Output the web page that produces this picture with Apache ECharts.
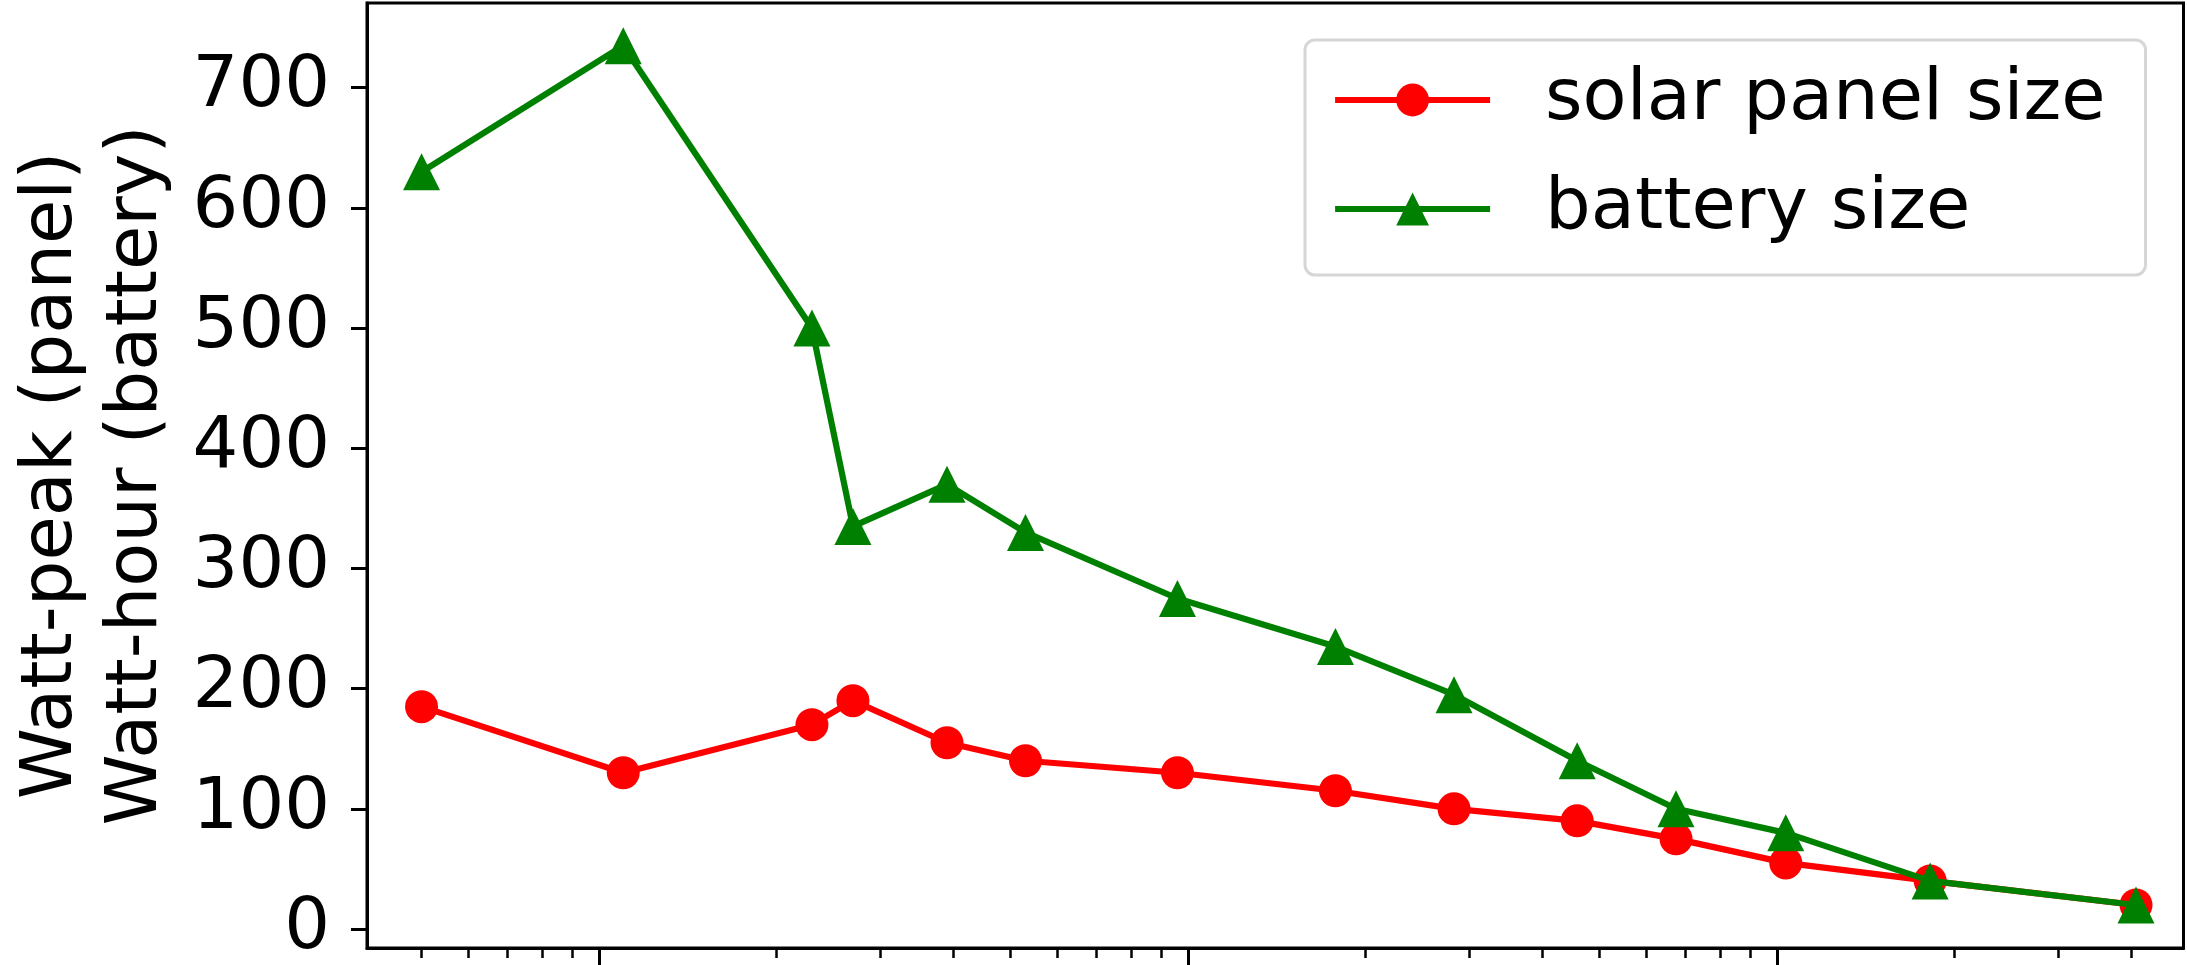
<!DOCTYPE html>
<html>
<head>
<meta charset="utf-8">
<style>
html,body{margin:0;padding:0;background:#fff;}
#chart{width:2187px;height:965px;}
</style>
<script src="https://cdn.jsdelivr.net/npm/echarts@6/dist/echarts.min.js"></script>
</head>
<body>
<div id="chart"></div>
<script>
// x positions (log scale, tick labels are not visible in the reference)
const xValues = [0.5, 1.1, 2.3, 2.7, 3.9, 5.3, 9.6, 17.8, 28.3, 45.8, 67.4, 103.5, 182, 407];
const solarPanel = [185, 130, 170, 190, 155, 140, 130, 115, 100, 90, 75, 55, 40, 20];
const batterySize = [630, 735, 500, 335, 370, 330, 275, 235, 195, 140, 100, 80, 40, 20];
const seriesNames = ['solar panel size', 'battery size'];
const yTicks = [0, 100, 200, 300, 400, 500, 600, 700];
const xMajorTicks = [1, 10, 100];
const xMinorTicks = [0.5, 0.6, 0.7, 0.8, 0.9, 2, 3, 4, 5, 6, 7, 8, 9, 20, 30, 40, 50, 60, 70, 80, 90, 200, 300, 400];
const yAxisTitle = 'Watt-peak (panel)\nWatt-hour (battery)';

const FONT = 'DejaVu Sans';
const chart = echarts.init(document.getElementById('chart'), null, {renderer: 'canvas'});

const pairs = ys => xValues.map((x, i) => [x, ys[i]]);

const xBase = {
  type: 'log',
  logBase: 10,
  min: 0.404,
  max: 490,
  gridIndex: 0,
  position: 'bottom',
  splitLine: {show: false},
  minorTick: {show: false},
  minorSplitLine: {show: false},
  axisLabel: {show: false}
};

chart.setOption({
  animation: false,
  backgroundColor: '#ffffff',
  grid: {
    left: 367, right: 3.5, top: 3, bottom: 16,
    show: true, borderColor: '#000', borderWidth: 3, backgroundColor: 'transparent'
  },
  legend: {
    show: true,
    left: 1305, top: 40,
    orient: 'vertical',
    padding: [24, 40, 30, 27],
    itemGap: 37,
    itemWidth: 155,
    itemHeight: 41,
    backgroundColor: '#ffffff',
    borderColor: '#d6d6d6',
    borderWidth: 3,
    borderRadius: 10,
    lineStyle: {width: 6.2},
    textStyle: {fontFamily: FONT, fontSize: 72, color: '#000', padding: [0, 0, 0, 50]},
    data: seriesNames
  },
  xAxis: [
    Object.assign({}, xBase, {
      axisLine: {show: true, onZero: false, lineStyle: {color: '#000', width: 3}},
      axisTick: {show: true, inside: false, length: 18, lineStyle: {color: '#000', width: 3}, customValues: xMajorTicks}
    }),
    Object.assign({}, xBase, {
      axisLine: {show: false, onZero: false},
      axisTick: {show: true, inside: false, length: 10, lineStyle: {color: '#000', width: 2.5}, customValues: xMinorTicks}
    })
  ],
  yAxis: {
    type: 'value',
    min: -15.75,
    max: 770.5,
    splitLine: {show: false},
    axisLine: {show: true, onZero: false, lineStyle: {color: '#000', width: 3}},
    axisTick: {show: true, inside: false, length: 16, lineStyle: {color: '#000', width: 3}, customValues: yTicks},
    axisLabel: {show: true, fontFamily: FONT, fontSize: 72, color: '#000', margin: 37, customValues: yTicks},
    name: yAxisTitle,
    nameLocation: 'middle',
    nameRotate: 90,
    nameGap: 187,
    nameTextStyle: {fontFamily: FONT, fontSize: 72, color: '#000', lineHeight: 85, align: 'center'}
  },
  series: [
    {
      name: seriesNames[0],
      type: 'line',
      xAxisIndex: 0,
      data: pairs(solarPanel),
      symbol: 'circle',
      symbolSize: 33,
      showAllSymbol: true,
      lineStyle: {color: '#ff0000', width: 6.2},
      itemStyle: {color: '#ff0000'},
      z: 2
    },
    {
      name: seriesNames[1],
      type: 'line',
      xAxisIndex: 0,
      data: pairs(batterySize),
      symbol: 'triangle',
      symbolSize: [37, 37],
      showAllSymbol: true,
      lineStyle: {color: '#008000', width: 6.2},
      itemStyle: {color: '#008000'},
      z: 3
    }
  ]
});
</script>
</body>
</html>
